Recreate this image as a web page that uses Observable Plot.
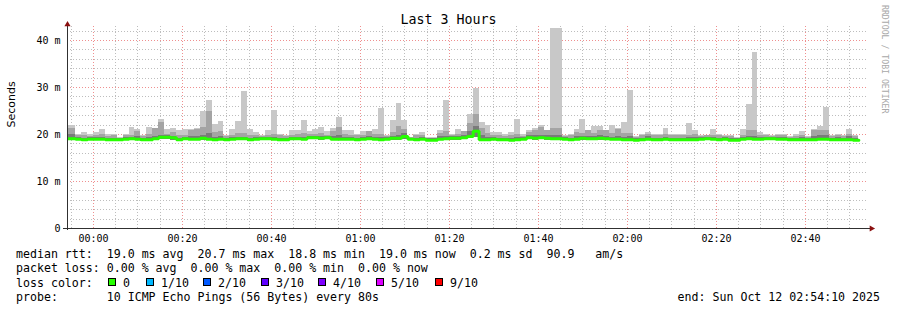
<!DOCTYPE html>
<html><head><meta charset="utf-8">
<script src="https://cdn.jsdelivr.net/npm/d3@7"></script>
<script src="https://cdn.jsdelivr.net/npm/@observablehq/plot@0.6"></script>
<style>
body{margin:0;background:#fff;}
#wrap{position:relative;width:897px;height:310px;overflow:hidden;font-family:"DejaVu Sans Mono",monospace;color:#000;background:#fff;}
#title{position:absolute;left:0;width:897px;top:12px;text-align:center;font-size:13.3px;line-height:16px;}
#rrd{position:absolute;left:889px;top:5px;transform-origin:0 0;transform:rotate(90deg);font-size:8.2px;line-height:9px;color:#a8a8a8;white-space:pre;}
#chart{position:absolute;left:0;top:0;}
.leg{position:absolute;font-size:11.6px;line-height:14px;white-space:pre;}
.sq{position:absolute;width:8px;height:8px;box-sizing:border-box;border:1px solid #000;}
</style>
</head><body>
<div id="wrap">
  <div id="chart"></div>
  <div id="title"></div>
  <div id="rrd">RRDTOOL / TOBI OETIKER</div>
</div>
<script>
// ---------- DATA ----------
const chartTitle = "Last 3 Hours";
const yAxisTitle = "Seconds";
// steps of 80 s, first step (partially clipped) starts 2025-10-11 23:53:20 UTC
const firstStep = "2025-10-11T23:53:20Z";
const stepSeconds = 80;
const rangeStart = "2025-10-11T23:54:10Z";
const rangeEnd = "2025-10-12T02:54:10Z";
const xTickLabels = ["00:00","00:20","00:40","01:00","01:20","01:40","02:00","02:20","02:40"];
const yTickValues = [0, 10, 20, 30, 40];
const yTickLabels = ["0", "10 m", "20 m", "30 m", "40 m"];

// max ping of each step (ms)
const hi = [
 21.9,21.9,20.0,20.4,20.0,20.4,21.1,20.0,20.1,19.3,
 20.0,21.5,21.0,19.9,21.5,21.3,23.2,21.1,21.3,20.8,
 21.1,21.1,21.3,24.9,27.2,22.1,22.8,19.9,21.1,22.8,
 29.1,21.1,20.5,19.7,20.9,25.1,20.1,19.7,20.9,20.9,
 23.0,20.7,21.1,21.5,20.7,21.3,23.6,20.9,20.9,20.0,
 20.7,20.7,21.1,25.6,19.9,23.0,26.7,23.0,19.4,20.0,
 20.4,19.4,19.4,20.9,27.2,20.0,21.1,20.7,24.3,29.8,
 22.5,21.9,20.4,20.4,20.0,20.4,23.2,20.0,20.9,21.3,
 21.9,20.9,42.5,42.5,19.9,20.0,21.1,23.2,20.7,21.8,
 21.8,20.7,21.9,21.3,22.5,29.4,19.5,20.1,20.4,20.0,
 20.1,21.3,20.1,20.0,20.1,22.3,20.9,19.9,19.9,21.1,
 20.0,19.9,19.9,19.4,21.1,26.3,37.5,20.4,20.0,19.9,
 20.0,20.1,19.5,20.0,20.7,19.5,21.1,21.8,25.8,19.9,
 20.1,19.9,21.1,19.9];
// second-highest ping band (ms)
const up = [
 21.2,21.2,19.7,19.8,19.6,19.7,20.1,19.6,19.7,19.2,
 19.7,19.9,20.7,19.6,20.0,21.2,22.6,20.0,20.5,19.8,
 19.9,20.8,21.0,21.4,24.9,20.4,20.7,19.6,19.9,20.2,
 20.3,19.9,19.8,19.5,19.8,20.0,19.8,19.5,19.9,20.0,
 20.2,20.0,20.1,20.3,19.9,20.6,21.4,20.0,19.9,19.7,
 19.9,20.7,20.0,20.1,19.6,20.5,21.7,21.0,19.3,19.7,
 19.8,19.2,19.2,20.2,20.6,19.7,20.0,20.7,22.4,24.3,
 21.3,20.3,19.9,19.8,19.6,19.8,20.0,19.6,20.5,20.8,
 21.5,20.8,21.2,21.2,19.6,19.7,20.5,20.2,20.8,20.2,
 20.9,20.9,20.3,21.1,20.3,20.2,19.3,19.8,20.1,19.7,
 19.8,20.0,19.8,19.7,19.7,19.9,20.0,19.6,19.7,19.9,
 19.7,19.6,19.5,19.2,19.8,20.8,20.8,19.8,19.7,19.6,
 19.7,19.8,19.3,19.6,19.8,19.3,20.8,20.8,20.8,19.6,
 19.7,19.6,20.0,19.5];
// inner ping band (ms)
const dk = [
 20.0,20.0,19.3,19.2,19.3,19.3,19.4,19.2,19.2,19.1,
 19.3,19.4,19.6,19.2,19.3,19.6,19.9,19.7,19.6,19.2,
 19.4,19.6,19.6,19.7,20.2,19.3,19.5,19.2,19.3,19.4,
 19.4,19.2,19.3,19.3,19.4,19.3,19.2,19.2,19.4,19.4,
 19.3,19.6,19.6,19.5,19.6,19.6,19.7,19.3,19.3,19.2,
 19.3,19.6,19.3,19.3,19.3,19.6,19.8,20.2,19.2,19.2,
 19.3,19.1,19.1,19.5,19.6,19.5,19.5,19.8,20.6,21.8,
 19.7,19.3,19.3,19.2,19.2,19.1,19.3,19.3,19.7,19.8,
 19.9,19.7,19.8,19.7,19.3,19.2,19.5,19.5,19.6,19.5,
 19.7,19.6,19.3,19.6,19.4,19.5,19.1,19.2,19.5,19.2,
 19.2,19.4,19.2,19.2,19.2,19.3,19.4,19.3,19.4,19.4,
 19.2,19.3,19.1,19.1,19.3,19.6,19.6,19.3,19.4,19.4,
 19.3,19.3,19.2,19.2,19.3,19.2,19.6,19.7,19.7,19.2,
 19.3,19.2,19.6,19.1];
// median rtt (ms)
const med = [
 19.1,19.1,19.0,18.9,19.0,19.0,19.0,18.9,18.9,18.9,
 19.0,19.1,19.0,18.9,18.9,19.1,19.4,19.4,19.3,18.9,
 19.1,19.0,19.0,19.2,19.0,18.9,19.0,18.9,19.0,19.1,
 19.1,18.9,19.0,19.1,19.1,19.0,18.9,18.9,19.1,19.1,
 19.0,19.3,19.3,19.2,19.3,19.0,19.0,19.0,19.0,18.9,
 19.0,19.1,19.0,18.9,19.0,19.2,19.2,19.6,19.0,18.9,
 19.0,18.8,18.8,19.0,19.1,19.2,19.2,19.3,19.6,20.7,
 18.9,18.9,19.0,18.9,18.9,18.8,18.9,19.0,19.3,19.2,
 19.3,19.2,19.1,19.1,19.0,18.9,19.0,19.2,19.1,19.1,
 19.2,19.1,19.0,19.0,18.9,18.9,18.8,18.9,19.0,18.9,
 18.9,19.0,18.9,18.9,18.9,18.9,18.9,19.0,19.1,19.0,
 18.9,19.0,18.8,18.8,19.0,19.1,19.0,19.0,19.1,19.1,
 19.0,19.0,18.9,18.9,18.9,18.9,18.9,19.0,19.0,18.9,
 18.9,18.9,18.9,18.8];
// min ping of each step (ms)
const lo = [
 18.7,18.7,18.7,18.6,18.7,18.7,18.7,18.6,18.6,18.6,
 18.7,18.7,18.7,18.6,18.6,18.7,18.9,18.9,18.8,18.6,
 18.7,18.7,18.7,18.8,18.7,18.6,18.7,18.6,18.7,18.7,
 18.7,18.6,18.7,18.7,18.7,18.7,18.6,18.6,18.7,18.7,
 18.7,18.9,18.9,18.8,18.9,18.7,18.7,18.7,18.7,18.6,
 18.7,18.7,18.7,18.6,18.7,18.8,18.8,19.0,18.7,18.6,
 18.7,18.5,18.5,18.7,18.7,18.8,18.8,18.9,19.1,19.3,
 18.6,18.6,18.7,18.6,18.6,18.5,18.6,18.7,18.9,18.8,
 18.9,18.8,18.7,18.7,18.7,18.6,18.7,18.8,18.7,18.7,
 18.8,18.7,18.7,18.7,18.6,18.6,18.5,18.6,18.7,18.6,
 18.6,18.7,18.6,18.6,18.6,18.6,18.6,18.7,18.7,18.7,
 18.6,18.7,18.5,18.5,18.7,18.7,18.7,18.7,18.7,18.7,
 18.7,18.7,18.6,18.6,18.6,18.6,18.6,18.7,18.7,18.6,
 18.6,18.6,18.6,18.5];

const legendLine1 = "median rtt:  19.0 ms avg  20.7 ms max  18.8 ms min  19.0 ms now  0.2 ms sd  90.9   am/s";
const legendLine2 = "packet loss: 0.00 % avg  0.00 % max  0.00 % min  0.00 % now";
const lossTitle = "loss color:";
const lossLabels = ["0", "1/10", "2/10", "3/10", "4/10", "5/10", "9/10"];
const lossColors = ["#26ff00", "#00b8ff", "#0059ff", "#5e00ff", "#7e00ff", "#dd00ff", "#ff0000"];
const probeLine = "probe:       10 ICMP Echo Pings (56 Bytes) every 80s";
const endLine = "end: Sun Oct 12 02:54:10 2025";

// ---------- BUILD ----------
const t0 = new Date(firstStep).getTime();
const rows = hi.map((h, i) => ({
  t1: new Date(t0 + i * stepSeconds * 1000),
  t2: new Date(t0 + (i + 1) * stepSeconds * 1000),
  lo: lo[i], dk: dk[i], up: up[i], hi: h, med: med[i]
}));
const medLine = rows.map(r => ({t: r.t1, v: r.med}));
medLine.push({t: rows[rows.length - 1].t2, v: rows[rows.length - 1].med});

const x0 = new Date(rangeStart), x1 = new Date(rangeEnd);
const xTicks = xTickLabels.map(s => new Date(Date.UTC(2025, 9, 12, +s.slice(0, 2), +s.slice(3, 5))));
const minorX = d3.utcMinute.every(5).range(x0, x1);
const majorX = d3.utcMinute.every(20).range(x0, x1);
const minorY = d3.range(2, 43, 2).filter(v => v % 10 !== 0);
const majorY = yTickValues.filter(v => v > 0);

const crisp = {shapeRendering: "crispEdges"};
const chart = Plot.plot({
  width: 897, height: 250,
  marginLeft: 67, marginRight: 29, marginTop: 26, marginBottom: 22,
  style: {fontFamily: "DejaVu Sans Mono", fontSize: "10px", background: "transparent", color: "#000", overflow: "visible"},
  x: {type: "utc", domain: [x0, x1]},
  y: {domain: [0, 43]},
  marks: [
    Plot.ruleY(minorY, {stroke: "#bdbdbd", strokeDasharray: "1,2", ...crisp}),
    Plot.ruleX(minorX, {stroke: "#bdbdbd", strokeDasharray: "1,2", ...crisp}),
    Plot.ruleY(majorY, {stroke: "#ef8f8f", strokeDasharray: "1,2", ...crisp}),
    Plot.ruleX(majorX, {stroke: "#ef8f8f", strokeDasharray: "1,2", ...crisp}),
    Plot.rect(rows, {x1: "t1", x2: "t2", y1: "lo", y2: "hi", fill: "#c8c8c8", clip: true, ...crisp}),
    Plot.rect(rows, {x1: "t1", x2: "t2", y1: "lo", y2: "up", fill: "#a4a4a4", clip: true, ...crisp}),
    Plot.rect(rows, {x1: "t1", x2: "t2", y1: "lo", y2: "dk", fill: "#7a7a7a", clip: true, ...crisp}),
    Plot.line(medLine, {x: "t", y: "v", curve: "step-after", stroke: "#26ff00", strokeWidth: 3, clip: true, strokeLinejoin: "miter"}),
    Plot.axisX({ticks: xTicks, tickFormat: d3.utcFormat("%H:%M"), tickSize: 0, tickPadding: 6, label: null}),
    Plot.axisY({ticks: yTickValues, tickFormat: d => yTickLabels[yTickValues.indexOf(d)], tickSize: 0, tickPadding: 7, label: null}),
    Plot.ruleY([0], {stroke: "#303030", insetLeft: -4, insetRight: -2, ...crisp}),
    Plot.ruleX([x0], {stroke: "#303030", insetTop: -3, insetBottom: -2, ...crisp}),
    Plot.dot([0], {frameAnchor: "top-left", symbol: "triangle", r: 2.3, fill: "#8b1010", stroke: null, dy: -2}),
    Plot.dot([0], {frameAnchor: "bottom-right", symbol: "triangle", rotate: 90, r: 2.3, fill: "#8b1010", stroke: null, dx: 3}),
    Plot.text([yAxisTitle], {text: d => d, frameAnchor: "left", dx: -56, rotate: -90, fontFamily: "DejaVu Sans", fontSize: 11, fill: "#000"})
  ]
});
document.getElementById("chart").appendChild(chart);
document.getElementById("title").textContent = chartTitle;

// ---------- LEGEND (text below the SVG) ----------
const wrap = document.getElementById("wrap");
function addText(txt, left, top, right) {
  const d = document.createElement("div");
  d.className = "leg";
  d.textContent = txt;
  d.style.top = top + "px";
  if (right != null) d.style.right = right + "px"; else d.style.left = left + "px";
  wrap.appendChild(d);
}
addText(legendLine1, 16, 247);
addText(legendLine2, 16, 261);
addText(lossTitle, 16, 275.5);
const sqX = [108, 146, 203, 261, 318, 376, 435];
lossLabels.forEach((lab, i) => {
  const s = document.createElement("div");
  s.className = "sq";
  s.style.left = sqX[i] + "px";
  s.style.top = "278px";
  s.style.background = lossColors[i];
  wrap.appendChild(s);
  addText(lab, sqX[i] + 15, 275.5);
});
addText(probeLine, 16, 289.5);
addText(endLine, null, 289.5, 17);
</script>
</body></html>
